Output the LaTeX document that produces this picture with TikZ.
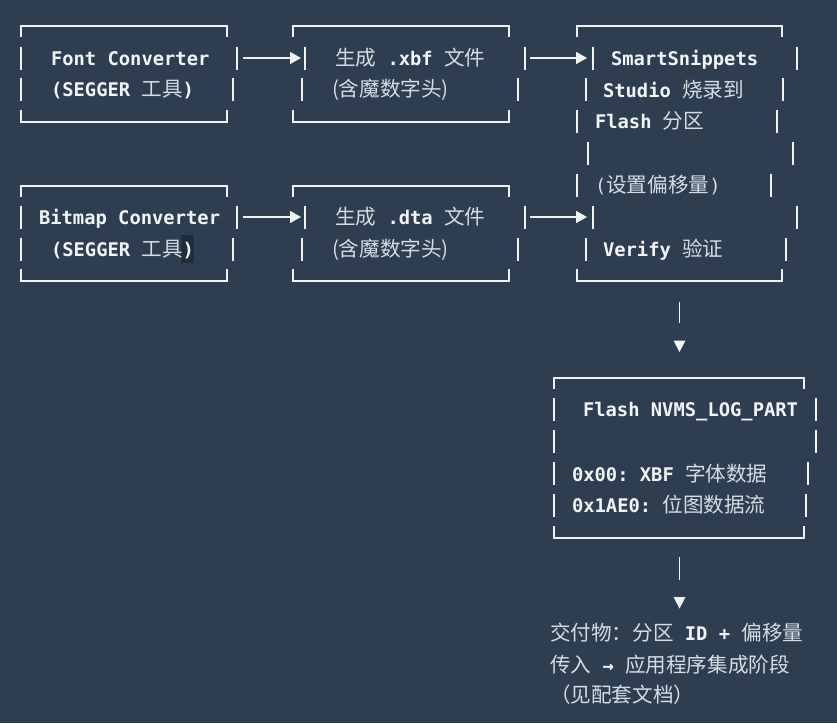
\documentclass[tikz,border=0pt]{standalone}
\usepackage{fontspec}
\usetikzlibrary{arrows.meta}
\setmonofont{DejaVu Sans Mono}
\newfontfamily\cjkf{Noto Sans CJK SC}
\definecolor{bg}{HTML}{2E3E50}
\definecolor{latc}{HTML}{F2F4F6}
\definecolor{cjkc}{HTML}{D6DCE3}
\definecolor{linec}{HTML}{F0F2F4}
\definecolor{hl}{HTML}{1F2C3A}
\newcommand\La[1]{{\color{latc}\ttfamily\bfseries\fontsize{18.8}{22}\selectfont#1}}
\newcommand\Lr[1]{{\color{cjkc}\ttfamily\fontsize{18.8}{22}\selectfont#1}}
\newcommand\Cj[1]{{\color{cjkc}\cjkf\fontsize{20.6}{24}\selectfont#1}}
\tikzset{
  bx/.style={draw=linec, line width=1.8pt},
  txt/.style={anchor=base west, inner sep=0pt, outer sep=0pt},
  arr/.style={draw=linec, line width=1.6pt, -{Triangle[length=11pt,width=12pt]}},
  tri/.style={fill=linec, draw=none},
}
\newcommand\boxtop[3]{\draw[bx] (#1,#3+11) -- (#1,#3) -- (#2,#3) -- (#2,#3+11);}
\newcommand\boxbot[3]{\draw[bx] (#1,#3-12) -- (#1,#3) -- (#2,#3) -- (#2,#3-12);}
\newcommand\vbar[2]{\draw[bx] (#1,#2-11.5) -- (#1,#2+11.5);}
\begin{document}
\begin{tikzpicture}[x=1pt,y=-1pt]
\path[use as bounding box, fill=bg] (0,0) rectangle (837,723);

% ---------- Box 1: Font Converter
\boxtop{21}{227}{26}
\boxbot{21}{227}{122}
\vbar{21}{58}\vbar{237}{58}
\vbar{21}{89}\vbar{233}{89}
\node[txt] (fc1) at (51,65) {\La{Font Converter}};
\node[txt] (fc2) at (51,96) {\La{(SEGGER }\Cj{工具}\La{)}};

% ---------- Box 2: xbf
\boxtop{293}{509}{26}
\boxbot{293}{509}{122}
\vbar{305}{58}\vbar{525}{58}
\vbar{302}{89}\vbar{518}{89}
\node[txt] (xb1) at (335,65) {\Cj{生成}\La{\ .xbf\ }\Cj{文件}};
\node[txt] (xb2) at (332,96) {\Cj{(含魔数字头)}};

% ---------- Box 3: SmartSnippets
\boxtop{577}{782}{26}
\boxbot{577}{782}{281}
\vbar{593}{58}\vbar{797}{58}
\vbar{586}{89}\vbar{783}{89}
\vbar{577}{121}\vbar{777}{121}
\vbar{588}{153}\vbar{793}{153}
\vbar{577}{185}\vbar{771}{185}
\vbar{593}{217}\vbar{797}{217}
\vbar{586}{249}\vbar{786}{249}
\node[txt] (ss1) at (611,65) {\La{SmartSnippets}};
\node[txt] (ss2) at (603,97) {\La{Studio\ }\Cj{烧录到}};
\node[txt] (ss3) at (595,128) {\La{Flash\ }\Cj{分区}};
\node[txt] (ss5) at (595,192) {\Lr{(}\Cj{设置偏移量}\Lr{)}};
\node[txt] (ss7) at (603,256) {\La{Verify\ }\Cj{验证}};

% ---------- Box 4: Bitmap Converter
\boxtop{21}{227}{186}
\boxbot{21}{227}{281}
\vbar{21}{217}\vbar{237}{217}
\vbar{21}{249}\vbar{233}{249}
\fill[hl] (181,235) rectangle (194,263);
\node[txt] (bc1) at (39,224) {\La{Bitmap Converter}};
\node[txt] (bc2) at (51,256) {\La{(SEGGER\ }\Cj{工具}\La{)}};

% ---------- Box 5: dta
\boxtop{293}{509}{186}
\boxbot{293}{509}{281}
\vbar{305}{217}\vbar{525}{217}
\vbar{302}{249}\vbar{518}{249}
\node[txt] (dt1) at (335,224) {\Cj{生成}\La{\ .dta\ }\Cj{文件}};
\node[txt] (dt2) at (332,256) {\Cj{(含魔数字头)}};

% ---------- horizontal arrows
\coordinate (a1s) at (243,58); \coordinate (a1e) at (301,58);
\coordinate (a2s) at (530,58); \coordinate (a2e) at (587,58);
\coordinate (a3s) at (243,217); \coordinate (a3e) at (301,217);
\coordinate (a4s) at (530,217); \coordinate (a4e) at (587,217);
\draw[arr] (a1s) -- (a1e);
\draw[arr] (a2s) -- (a2e);
\draw[arr] (a3s) -- (a3e);
\draw[arr] (a4s) -- (a4e);

% ---------- down connector 1
\coordinate (d1s) at (679.5,302); \coordinate (d1e) at (679.5,323);
\draw[bx] (d1s) -- (d1e);
\fill[tri] (673.5,340.5) -- (685.5,340.5) -- (679.5,352) -- cycle;

% ---------- Box 6: Flash NVMS
\boxtop{554}{804}{378}
\boxbot{554}{804}{538}
\vbar{554}{409}\vbar{816}{409}
\vbar{554}{441}\vbar{816}{441}
\vbar{554}{473}\vbar{808}{473}
\vbar{554}{505}\vbar{806}{505}
\node[txt] (fl1) at (583,416) {\La{Flash NVMS\_LOG\_PART}};
\node[txt] (fl3) at (572,481) {\La{0x00: XBF\ }\Cj{字体数据}};
\node[txt] (fl4) at (572,512) {\La{0x1AE0:\ }\Cj{位图数据流}};

% ---------- down connector 2
\coordinate (d2s) at (679.5,557); \coordinate (d2e) at (679.5,580);
\draw[bx] (d2s) -- (d2e);
\fill[tri] (673.5,597) -- (685.5,597) -- (679.5,608.5) -- cycle;

% ---------- deliverable text
\node[txt] (dl1) at (550,640.5) {\Cj{交付物：分区}\La{\ ID + }\Cj{偏移量}};
\node[txt] (dl2) at (550,672.5) {\Cj{传入}\La{\ →\ }\Cj{应用程序集成阶段}};
\node[txt] (dl3) at (550,702.5) {\Cj{（见配套文档）}};
\end{tikzpicture}
\end{document}
